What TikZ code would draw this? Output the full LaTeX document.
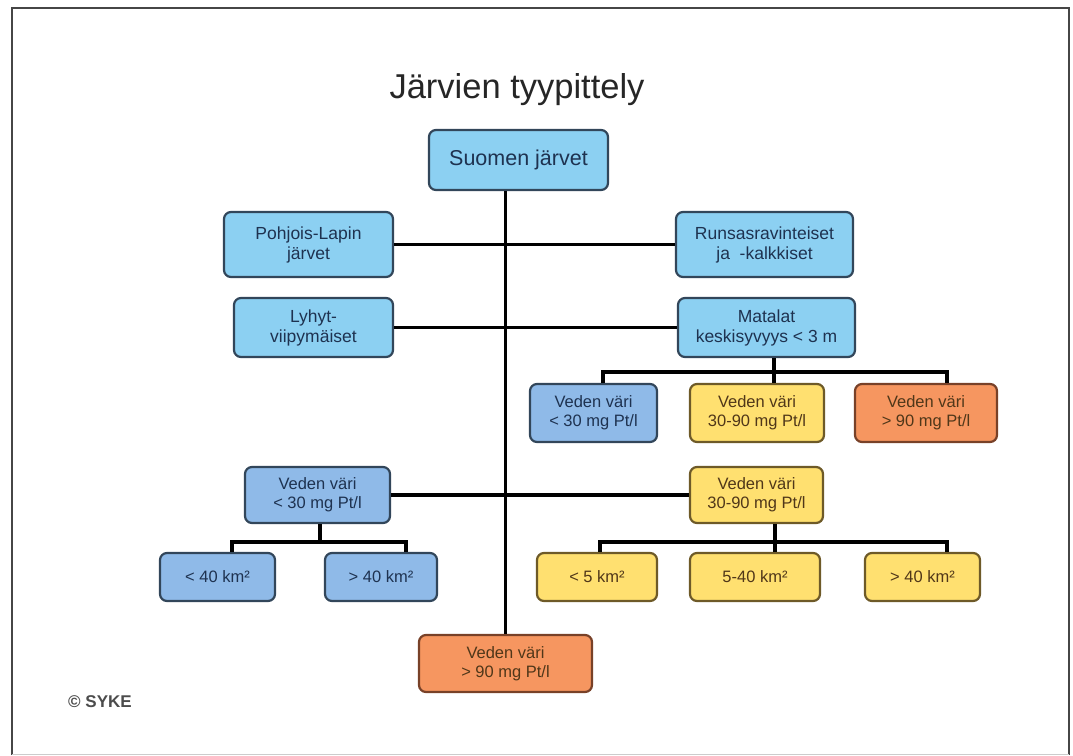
\documentclass[tikz,border=0pt]{standalone}
\usepackage{fontspec}
\setmainfont{Liberation Sans}
\definecolor{topblue}{RGB}{140,208,242}
\definecolor{midblue}{RGB}{143,186,232}
\definecolor{yel}{RGB}{255,224,112}
\definecolor{ora}{RGB}{246,150,96}
\definecolor{blueedge}{RGB}{50,70,90}
\definecolor{yeledge}{RGB}{110,90,40}
\definecolor{oraedge}{RGB}{120,65,40}
\definecolor{bluetxt}{RGB}{30,50,80}
\definecolor{browntxt}{RGB}{80,55,25}
\definecolor{frame}{RGB}{70,70,70}
\tikzset{
  box/.style={draw, rounded corners=7pt, line width=2.2pt, align=center, inner sep=0pt,
    font=\fontsize{16.5}{19}\selectfont},
  bt/.style={box, fill=topblue, draw=blueedge, text=bluetxt},
  bm/.style={box, fill=midblue, draw=blueedge, text=bluetxt},
  by/.style={box, fill=yel, draw=yeledge, text=browntxt},
  bo/.style={box, fill=ora, draw=oraedge, text=browntxt},
  conn/.style={line width=3.2pt, black},
}
\begin{document}
\begin{tikzpicture}[x=1pt,y=-1pt]
\useasboundingbox (0,0) rectangle (1073,755);
\fill[white] (0,0) rectangle (1073,755);
\draw[frame, line width=2pt] (12,755) -- (12,8) -- (1069,8) -- (1069,755);
\draw[gray!40, line width=0.8pt] (12,754) -- (1069,754);

\node[font=\fontsize{34.5}{40}\selectfont, text=black!85] (title) at (517,90) {Järvien tyypittely};

\node[bt, minimum width=179pt, minimum height=60pt, font=\fontsize{21.5}{25}\selectfont] (suomen) at (518.5,160) {Suomen järvet};
\node[bt, minimum width=169pt, minimum height=65pt, font=\fontsize{17.5}{20}\selectfont] (pohjois) at (308.5,244.5) {Pohjois-Lapin\\järvet};
\node[bt, minimum width=177pt, minimum height=65pt, font=\fontsize{17.5}{20}\selectfont] (runsas) at (764.5,244.5) {Runsasravinteiset\\ja \ -kalkkiset};
\node[bt, minimum width=159pt, minimum height=59pt, font=\fontsize{17.5}{20}\selectfont] (lyhyt) at (313.5,327.5) {Lyhyt-\\viipymäiset};
\node[bt, minimum width=177pt, minimum height=59pt, font=\fontsize{17.5}{20}\selectfont] (matalat) at (766.5,327.5) {Matalat\\keskisyvyys < 3 m};

\node[bm, minimum width=127pt, minimum height=58pt] (c1) at (593.5,413) {Veden väri\\< 30 mg Pt/l};
\node[by, minimum width=134pt, minimum height=58pt] (c2) at (757,413) {Veden väri\\30-90 mg Pt/l};
\node[bo, minimum width=142pt, minimum height=58pt] (c3) at (926,413) {Veden väri\\> 90 mg Pt/l};

\node[bm, minimum width=145pt, minimum height=56pt] (lv) at (317.5,495) {Veden väri\\< 30 mg Pt/l};
\node[by, minimum width=133pt, minimum height=56pt] (rv) at (756.5,495) {Veden väri\\30-90 mg Pt/l};

\node[bm, minimum width=115pt, minimum height=48pt] (k1) at (217.5,577) {< 40 km²};
\node[bm, minimum width=112pt, minimum height=48pt] (k2) at (381,577) {> 40 km²};
\node[by, minimum width=120pt, minimum height=48pt] (y1) at (597,577) {< 5 km²};
\node[by, minimum width=130pt, minimum height=48pt] (y2) at (755,577) {5-40 km²};
\node[by, minimum width=115pt, minimum height=48pt] (y3) at (922.5,577) {> 40 km²};

\node[bo, minimum width=173pt, minimum height=57pt] (bot) at (505.5,663.5) {Veden väri\\> 90 mg Pt/l};

\node[font=\bfseries\fontsize{17}{20}\selectfont, text=black!70] (syke) at (100,702) {© SYKE};

% connectors
\draw[conn] (bot.north |- suomen.south) -- (bot.north);
\draw[conn] (pohjois.east) -- (runsas.west);
\draw[conn] (lyhyt.east) -- (matalat.west);
\draw[conn] (lv.east) -- (rv.west);

\coordinate (mj) at (774,372);
\coordinate (r3l) at (603,372);
\coordinate (r3r) at (947,372);
\draw[conn] (matalat.south -| mj) -- (mj);
\draw[conn] (r3l |- c1.north) -- (r3l) -- (r3r) -- (r3r |- c3.north);
\draw[conn] (mj) -- (mj |- c2.north);

\coordinate (lj) at (320,542);
\coordinate (ll) at (232,542);
\coordinate (lr) at (406,542);
\draw[conn] (lv.south -| lj) -- (lj);
\draw[conn] (ll |- k1.north) -- (ll) -- (lr) -- (lr |- k2.north);

\coordinate (rj) at (775,542);
\coordinate (rl) at (600,542);
\coordinate (rr) at (947,542);
\draw[conn] (rv.south -| rj) -- (rj);
\draw[conn] (rl |- y1.north) -- (rl) -- (rr) -- (rr |- y3.north);
\draw[conn] (rj) -- (rj |- y2.north);
\end{tikzpicture}
\end{document}
